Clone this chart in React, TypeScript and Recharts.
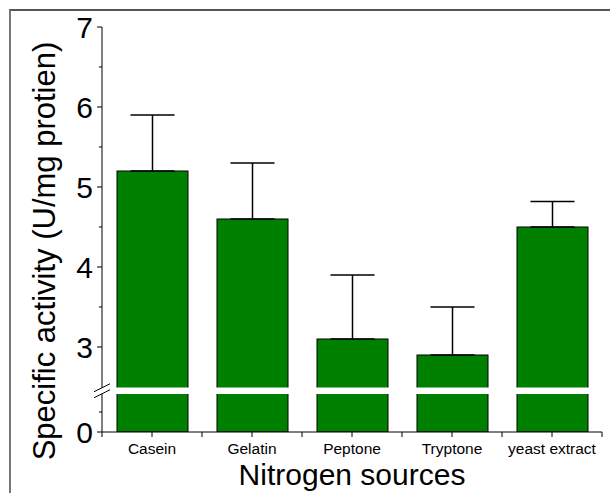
import React from "react";
import { BarChart, Bar, XAxis, YAxis, ErrorBar } from "recharts";

const categories = ["Casein", "Gelatin", "Peptone", "Tryptone", "yeast extract"];
const activity = [5.2, 4.6, 3.1, 2.9, 4.5];
const sdUp = [0.7, 0.7, 0.8, 0.6, 0.32];
const majorTicks = [0, 3, 4, 5, 6, 7];
const minorTicks = [0.25, 3.5, 4.5, 5.5, 6.5];

// broken axis: lower segment 0..0.475, gap, upper segment from ~2.49 up
const LOW_TOP = 0.475;
const GAP_TOP = 0.556;
const SHIFT = 1.9375;
const toT = (v: number) => (v <= LOW_TOP ? v : v - SHIFT);
const BREAK_T = (LOW_TOP + GAP_TOP) / 2;

const data = categories.map((name, i) => ({
  name,
  t: toT(activity[i]),
  err: [0, sdUp[i]],
}));

const FONT = "'Liberation Sans', Arial, sans-serif";

const majorT = majorTicks.map(toT);
const minorT = minorTicks.map(toT);

const YTick = (props: any) => {
  const { x, y, payload } = props;
  const v = payload.value;
  if (Math.abs(v - BREAK_T) < 1e-6) {
    return (
      <g>
        <rect x={x - 2} y={y - 3} width={4} height={6} fill="#fff" />
        <line x1={x - 8} y1={y + 1} x2={x + 8} y2={y - 7} stroke="#000" strokeWidth={1} />
        <line x1={x - 8} y1={y + 7} x2={x + 8} y2={y - 1} stroke="#000" strokeWidth={1} />
      </g>
    );
  }
  const mi = majorT.findIndex((m) => Math.abs(m - v) < 1e-6);
  if (mi >= 0) {
    return (
      <g>
        <line x1={x - 5} y1={y} x2={x} y2={y} stroke="#000" strokeWidth={1} />
        <text
          x={x - 9}
          y={y}
          dy="0.36em"
          textAnchor="end"
          fontSize={30}
          fontFamily={FONT}
          fill="#000"
        >
          {majorTicks[mi]}
        </text>
      </g>
    );
  }
  return <line x1={x - 3} y1={y} x2={x} y2={y} stroke="#000" strokeWidth={1} />;
};

const XTick = (props: any) => {
  const { x, y, payload, index } = props;
  return (
    <g>
      <line x1={x} y1={y} x2={x} y2={y + 5} stroke="#000" strokeWidth={1} />
      <line x1={x + 50} y1={y} x2={x + 50} y2={y + 5} stroke="#000" strokeWidth={1} />
      {index === 0 && (
        <line x1={x - 50} y1={y} x2={x - 50} y2={y + 5} stroke="#000" strokeWidth={1} />
      )}
      <text
        x={x}
        y={y + 22}
        textAnchor="middle"
        fontSize={15.5}
        fontFamily={FONT}
        fill="#000"
      >
        {payload.value}
      </text>
    </g>
  );
};

const BrokenBar = (props: any) => {
  const { x, y, width, height, payload } = props;
  const base = y + height;
  const ppu = height / payload.t;
  const gapTop = base - GAP_TOP * ppu;
  const gapBottom = base - LOW_TOP * ppu;
  return (
    <g>
      <rect x={x} y={y} width={width} height={height} fill="#008000" stroke="#000" strokeWidth={1} />
      <rect x={x - 2} y={gapTop} width={width + 4} height={gapBottom - gapTop} fill="#fff" />
    </g>
  );
};

export default function App() {
  return (
    <div style={{ position: "absolute", left: 0, top: 0, width: 610, height: 493, background: "#fff" }}>
      <div
        style={{
          position: "absolute",
          left: 9,
          top: 9,
          width: 601,
          height: 484,
          borderLeft: "2px solid #777",
          borderTop: "2px solid #555",
          boxSizing: "border-box",
        }}
      />
      <div style={{ position: "absolute", left: 0, top: 0 }}>
        <BarChart
          width={610}
          height={493}
          data={data}
          margin={{ top: 27, right: 8, bottom: 0, left: 0 }}
        >
          <XAxis
            dataKey="name"
            height={61}
            tickSize={0}
            tickMargin={0}
            interval={0}
            stroke="#000"
            tick={<XTick />}
            label={{
              content: () => (
                <text
                  x={352}
                  y={485}
                  textAnchor="middle"
                  fontSize={30}
                  fontFamily={FONT}
                  fill="#000"
                >
                  Nitrogen sources
                </text>
              ),
            }}
          />
          <YAxis
            type="number"
            width={102}
            domain={[0, toT(7)]}
            ticks={[...majorT, ...minorT, BREAK_T]}
            interval={0}
            tickSize={0}
            tickMargin={0}
            stroke="#000"
            tick={<YTick />}
            allowDataOverflow
            label={{
              content: () => (
                <text
                  x={55}
                  y={251}
                  transform="rotate(-90 55 251)"
                  textAnchor="middle"
                  fontSize={31}
                  fontFamily={FONT}
                  fill="#000"
                >
                  Specific activity (U/mg protien)
                </text>
              ),
            }}
          />
          <Bar dataKey="t" barSize={71} shape={<BrokenBar />} isAnimationActive={false}>
            <ErrorBar
              dataKey="err"
              direction="y"
              width={22}
              stroke="#000"
              strokeWidth={1.5}
              isAnimationActive={false}
            />
          </Bar>
        </BarChart>
      </div>
    </div>
  );
}
